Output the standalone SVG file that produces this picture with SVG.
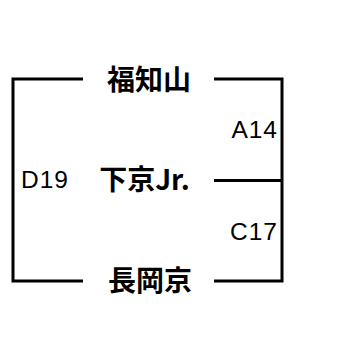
<svg xmlns="http://www.w3.org/2000/svg" width="349" height="347" viewBox="0 0 349 347">
<style>
.st{font-family:"Noto Sans CJK JP","Noto Sans CJK SC",sans-serif;font-weight:bold;font-size:28px;fill:#000;text-anchor:middle}
.lb{font-family:"Liberation Sans",Arial,sans-serif;font-size:24.5px;letter-spacing:1px;fill:#000}
.ln{fill:none;stroke:#000;stroke-width:3;stroke-linecap:butt;stroke-linejoin:miter}
</style>
<rect width="349" height="347" fill="#fff"/>
<g id="connectors">
<path class="ln" d="M83,79 H13 V281 H83"/>
<path class="ln" d="M214,79 H282 V281 H214"/>
<path class="ln" d="M214,180.5 H282"/>
<text class="lb" x="278" y="137.5" text-anchor="end">A14</text>
<text class="lb" x="278" y="240" text-anchor="end">C17</text>
<text class="lb" x="21" y="188">D19</text>
</g>
<g id="fukuchiyama"><text class="st" x="149" y="89.5">福知山</text></g>
<g id="shimogyo"><text class="st" x="144.5" y="190">下京Jr.</text></g>
<g id="nagaokakyo"><text class="st" x="150" y="291">長岡京</text></g>
</svg>
